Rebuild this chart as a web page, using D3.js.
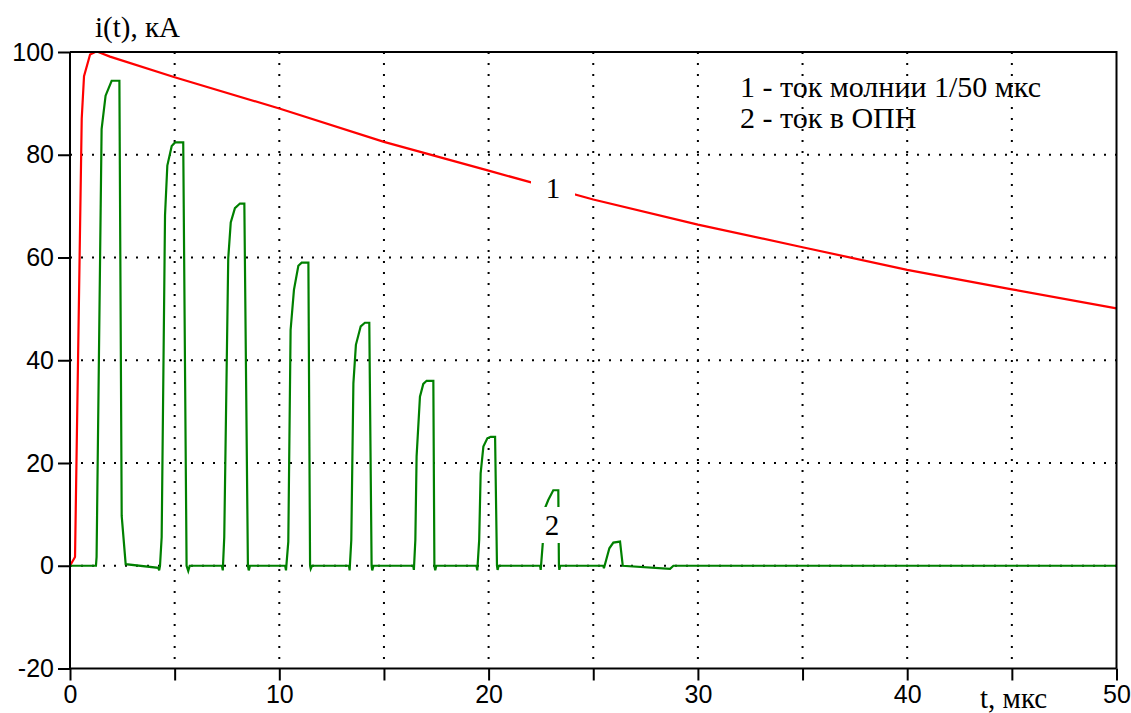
<!DOCTYPE html>
<meta charset="utf-8">
<style>
  body { margin: 0; background: #fff; }
  svg { display: block; }
  .tick text { font-family: "Liberation Sans", Arial, sans-serif; font-size: 25px; fill: #000; }
  .serif { font-family: "Liberation Serif", "Times New Roman", serif; fill: #000; }
</style>
<svg id="chart" width="1131" height="713"></svg>
<script src="https://d3js.org/d3.v7.min.js"></script>
<script>
// red curve: lightning current 1/50 us
var redT = [0, 0.24, 0.56, 0.67, 0.96, 1.2, 1.35, 1.91, 5, 10, 15, 20, 25, 30, 35, 40, 45, 50];
var redI = [0, 1.7, 87, 95.3, 99.5, 100, 100, 99.1, 95.1, 89, 82.5, 76.9, 71.3, 66.4, 62, 57.6, 53.8, 50.1];

// green curve: current through the arrester
var opnT = [0, 1.24, 1.27, 1.51, 1.70, 1.99, 2.36, 2.47, 2.66, 4.22, 4.26, 4.30, 4.38, 4.54, 4.65, 4.86, 5.02, 5.41, 5.57, 5.65, 5.72,
  7.26, 7.30, 7.37, 7.56, 7.68, 7.88, 8.12, 8.33, 8.50, 8.54, 8.60,
  10.28, 10.32, 10.43, 10.54, 10.70, 10.91, 11.07, 11.39, 11.47, 11.50, 11.56,
  13.33, 13.36, 13.44, 13.54, 13.66, 13.89, 14.09, 14.30, 14.41, 14.44, 14.50,
  16.40, 16.43, 16.50, 16.56, 16.72, 16.88, 17.04, 17.36, 17.41, 17.45, 17.50,
  19.42, 19.46, 19.55, 19.62, 19.75, 19.94, 20.10, 20.31, 20.40, 20.43, 20.48,
  22.46, 22.49, 22.60, 22.69, 22.85, 23.09, 23.33, 23.36, 23.38, 23.42,
  25.48, 25.51, 25.77, 25.96, 26.28, 26.41, 28.67, 28.83, 50];
var opnI = [0, 0, 1.7, 85, 91.5, 94.4, 94.4, 9.7, 0.3, -0.4, -0.9, 0, 5.6, 68.2, 77.9, 81.7, 82.4, 82.4, 0, -1, 0,
  0, -0.9, 5.6, 59.8, 66.8, 69.6, 70.5, 70.5, 0, -0.9, 0,
  0, -0.9, 4.7, 45.9, 53.7, 58.4, 59, 59, 0, -0.6, 0,
  0, -0.9, 5, 35.5, 43, 46.6, 47.3, 47.3, 0, -0.9, 0,
  0, -0.8, 5, 21.3, 32.9, 35.4, 36, 36, 0, -0.9, 0,
  0, -0.9, 5, 18, 23.2, 24.8, 25.1, 25.1, 0, -0.8, 0,
  0, -0.8, 5, 11.2, 12.8, 14.7, 14.7, 0, -0.8, 0,
  0, -0.5, 3.4, 4.5, 4.7, 0, -0.6, 0, 0];

var xTicks = [0, 5, 10, 15, 20, 25, 30, 35, 40, 45, 50];
var yTicks = [-20, 0, 20, 40, 60, 80, 100];
var xGrid = [5, 10, 15, 20, 25, 30, 35, 40, 45];
var yGrid = [0, 20, 40, 60, 80];
var legendLines = ["1 - ток молнии 1/50 мкс", "2 - ток в ОПН"];

var svg = d3.select("#chart");
var pLeft = 70, pRight = 1116.5, pTop = 52, pBottom = 668.5;

var x = d3.scaleLinear().domain([0, 50]).range([pLeft, pRight]);
var y = d3.scaleLinear().domain([-20, 100]).range([pBottom, pTop]);

// dotted grid
svg.append("g").selectAll("line").data(xGrid).join("line")
  .attr("x1", d => x(d)).attr("x2", d => x(d))
  .attr("y1", pTop).attr("y2", pBottom)
  .attr("stroke", "#000").attr("stroke-width", 2).attr("stroke-dasharray", "2 9");
svg.append("g").selectAll("line").data(yGrid).join("line")
  .attr("x1", pLeft).attr("x2", pRight)
  .attr("y1", d => y(d)).attr("y2", d => y(d))
  .attr("stroke", "#000").attr("stroke-width", 2).attr("stroke-dasharray", "2 9");

var line = d3.line().x(d => x(d[0])).y(d => y(d[1]));

svg.append("path")
  .datum(redT.map((t, i) => [t, redI[i]]))
  .attr("d", line).attr("fill", "none")
  .attr("stroke", "#ff0000").attr("stroke-width", 2.2);

svg.append("path")
  .datum(opnT.map((t, i) => [t, opnI[i]]))
  .attr("d", line).attr("fill", "none")
  .attr("stroke", "#008000").attr("stroke-width", 2.2);

// curve labels with a white box behind them
function curveLabel(txt, cx, cy) {
  svg.append("rect").attr("x", cx - 22).attr("y", cy - 18)
    .attr("width", 44).attr("height", 36).attr("fill", "#fff");
  svg.append("text").attr("class", "serif")
    .attr("x", cx).attr("y", cy + 10)
    .attr("text-anchor", "middle").attr("font-size", 29)
    .text(txt);
}
curveLabel("1", 553, 188);
curveLabel("2", 552, 525);

// frame
svg.append("path")
  .attr("d", "M" + pLeft + "," + pTop + "H" + pRight + "V" + pBottom)
  .attr("fill", "none").attr("stroke", "#000").attr("stroke-width", 2);

// axes
var gx = svg.append("g").attr("transform", "translate(0," + pBottom + ")")
  .call(d3.axisBottom(x).tickValues(xTicks).tickSize(12).tickPadding(5)
    .tickFormat(d => d % 10 === 0 ? String(d) : ""));
var gy = svg.append("g").attr("transform", "translate(" + pLeft + ",0)")
  .call(d3.axisLeft(y).tickValues(yTicks).tickSize(12).tickPadding(4)
    .tickFormat(d => String(d)));
[gx, gy].forEach(g => {
  g.select(".domain").attr("stroke", "#000").attr("stroke-width", 2);
  g.selectAll(".tick line").attr("stroke", "#000").attr("stroke-width", 2);
});
gy.select(".domain").attr("d", "M0," + pTop + "V" + pBottom);
gx.select(".domain").attr("d", "M" + pLeft + ",0H" + pRight);

// axis titles
svg.append("text").attr("class", "serif").attr("x", 95).attr("y", 37)
  .attr("font-size", 29).text("i(t), кА");
svg.append("text").attr("class", "serif").attr("x", 980).attr("y", 708)
  .attr("font-size", 29).text("t, мкс");

// legend
svg.append("g").selectAll("text").data(legendLines).join("text")
  .attr("class", "serif")
  .attr("x", 740).attr("y", (d, i) => 97 + i * 31)
  .attr("font-size", 30)
  .text(d => d);
</script>
